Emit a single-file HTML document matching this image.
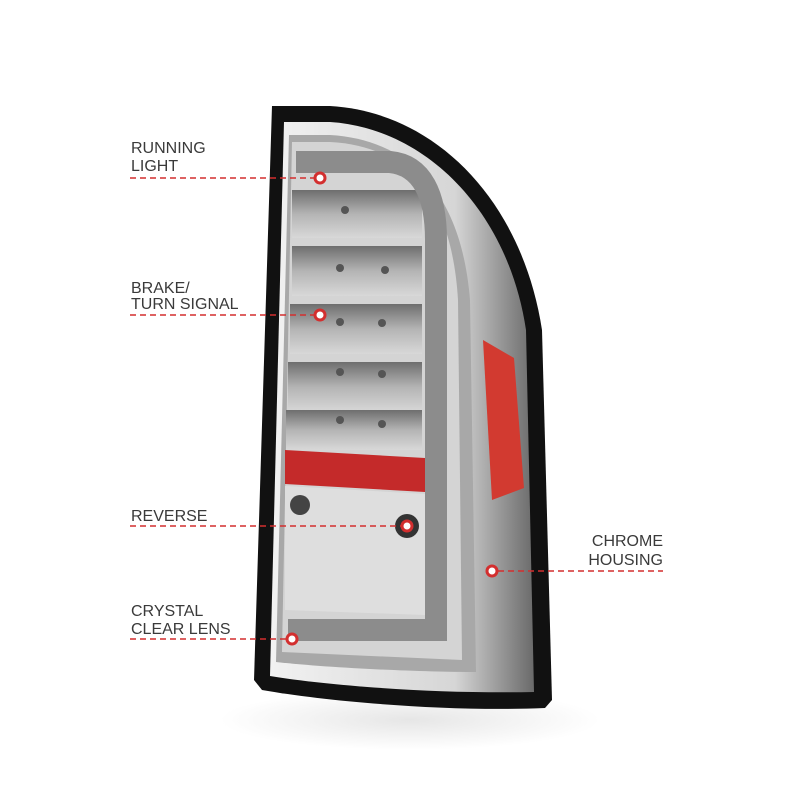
<!DOCTYPE html>
<html><head><style>
body{margin:0;background:#fff;}
.t{font-family:"Liberation Sans",sans-serif;font-size:16px;fill:#3a3a3a;}
</style></head><body>
<svg width="800" height="800" viewBox="0 0 800 800" xmlns="http://www.w3.org/2000/svg">
<defs>
<linearGradient id="led" x1="0" y1="0" x2="0" y2="1">
<stop offset="0" stop-color="#6e6e6e"/><stop offset="0.5" stop-color="#b4b4b4"/><stop offset="1" stop-color="#d8d8d8"/>
</linearGradient>
<linearGradient id="chr" x1="0" y1="0" x2="1" y2="0">
<stop offset="0" stop-color="#f2f2f2"/><stop offset="0.7" stop-color="#d6d6d6"/><stop offset="1" stop-color="#6a6a6a"/>
</linearGradient>
<radialGradient id="sh" cx="0.5" cy="0.5" r="0.5"><stop offset="0" stop-color="#e6e6e6"/><stop offset="1" stop-color="#fff"/></radialGradient>
</defs>
<ellipse cx="410" cy="720" rx="190" ry="30" fill="url(#sh)"/>
<path d="M272,106 L330,106 C435,112 522,200 542,330 L552,700 L545,708 C450,712 330,702 262,690 L254,680 Z" fill="#111"/>
<path d="M284,122 L330,122 C425,128 508,210 526,330 L534,692 C440,694 330,686 270,676 Z" fill="url(#chr)"/>
<path d="M289,135 L330,135 C415,140 462,200 470,300 L476,672 C420,672 330,668 276,662 Z" fill="#a8a8a8"/>
<path d="M292,142 L330,142 C410,146 452,200 458,300 L462,660 L282,652 Z" fill="#d4d4d4"/>
<rect x="292" y="190" width="130" height="48" fill="url(#led)"/>
<rect x="292" y="246" width="130" height="50" fill="url(#led)"/>
<rect x="290" y="304" width="132" height="50" fill="url(#led)"/>
<rect x="288" y="362" width="134" height="50" fill="url(#led)"/>
<rect x="286" y="410" width="136" height="40" fill="url(#led)"/>
<g fill="#555">
<circle cx="345" cy="210" r="4"/><circle cx="340" cy="268" r="4"/><circle cx="385" cy="270" r="4"/>
<circle cx="340" cy="322" r="4"/><circle cx="382" cy="323" r="4"/><circle cx="340" cy="372" r="4"/><circle cx="382" cy="374" r="4"/>
<circle cx="340" cy="420" r="4"/><circle cx="382" cy="424" r="4"/>
</g>
<path d="M285,450 L425,458 L425,492 L285,484 Z" fill="#c42a2a"/>
<path d="M285,486 L425,494 L425,615 L285,610 Z" fill="#dedede"/>
<circle cx="300" cy="505" r="10" fill="#444"/>
<circle cx="407" cy="526" r="12" fill="#333"/>
<path d="M296,162 L390,162 C422,165 436,195 436,240 L436,630 L288,630" fill="none" stroke="#8c8c8c" stroke-width="22"/>
<path d="M483,340 L514,358 L524,488 L492,500 Z" fill="#d23a30"/>
<text class="t" x="131" y="153">RUNNING</text>
<text class="t" x="131" y="171">LIGHT</text>
<text class="t" x="131" y="293">BRAKE/</text>
<text class="t" x="131" y="309">TURN SIGNAL</text>
<text class="t" x="131" y="521">REVERSE</text>
<text class="t" x="131" y="616">CRYSTAL</text>
<text class="t" x="131" y="634">CLEAR LENS</text>
<text class="t" x="663" y="546" text-anchor="end">CHROME</text>
<text class="t" x="663" y="565" text-anchor="end">HOUSING</text>
<g stroke="#d32f2f" stroke-width="1.5" stroke-dasharray="6,4">
<line x1="130" y1="178" x2="314" y2="178"/>
<line x1="130" y1="315" x2="314" y2="315"/>
<line x1="130" y1="526" x2="401" y2="526"/>
<line x1="130" y1="639" x2="286" y2="639"/>
<line x1="498" y1="571" x2="663" y2="571"/>
</g>
<g fill="#fff" stroke="#d32f2f" stroke-width="3">
<circle cx="320" cy="178" r="5"/>
<circle cx="320" cy="315" r="5"/>
<circle cx="407" cy="526" r="5"/>
<circle cx="292" cy="639" r="5"/>
<circle cx="492" cy="571" r="5"/>
</g>
</svg>
</body></html>
